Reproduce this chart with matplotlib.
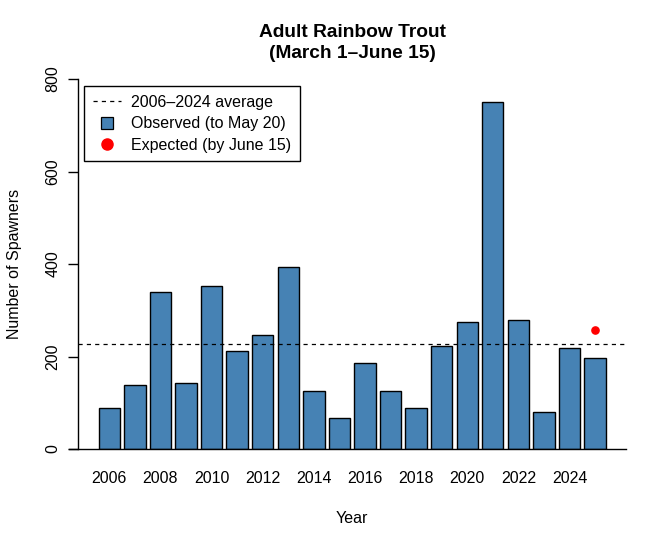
import numpy as np
import matplotlib
matplotlib.use('Agg')
import matplotlib.pyplot as plt
from matplotlib.lines import Line2D

plt.rcParams['font.family'] = ['Liberation Sans', 'DejaVu Sans']
plt.rcParams['lines.scale_dashes'] = False

# data
years = list(range(2006, 2026))
spawners = [88, 138, 339, 142, 352, 211, 246, 393, 125, 68,
            187, 125, 88, 222, 274, 750, 280, 79, 218, 196]
expected_2025 = 257
tick_years = list(range(2006, 2025, 2))

avg = np.mean(spawners[:-1])   # 2006-2024 average

# R-barplot-like positions: width 1, space 0.2
xpos = 0.7 + 1.2 * np.arange(len(years))

fig = plt.figure(figsize=(6.66, 5.47), dpi=100)
ax = fig.add_axes([78.4 / 666, 98 / 547, (626 - 78.4) / 666, 370 / 547])

ax.bar(xpos, spawners, width=1.0, color='#4682B4', edgecolor='black', linewidth=1.0)
ax.axhline(avg, color='black', linestyle=(0, (3, 3)), linewidth=0.9)
ax.plot(xpos[-1], expected_2025, 'o', color='red', markersize=5.2)

# baseline that runs a little past the y axis, as in the original
ax.plot([-1.2, 24.95], [0, 0], color='black', linewidth=1.0, clip_on=False)

ax.set_xlim(-0.75, 24.95)
ax.set_ylim(0, 800)

for s in ['top', 'right', 'bottom']:
    ax.spines[s].set_visible(False)
ax.spines['left'].set_bounds(0, 800)
ax.spines['left'].set_linewidth(1.0)

ax.set_yticks([0, 200, 400, 600, 800])
ax.tick_params(axis='y', length=7, width=1.0, labelsize=11.5, pad=6)
for lab in ax.get_yticklabels():
    lab.set_rotation(90)
    lab.set_va('center')

idx = [years.index(y) for y in tick_years]
ax.set_xticks(xpos[idx])
ax.set_xticklabels([str(y) for y in tick_years])
ax.tick_params(axis='x', length=0, labelsize=11.5, pad=15.5)

ax.set_title('Adult Rainbow Trout\n(March 1\u2013June 15)', fontsize=13.8,
             fontweight='bold', pad=15, linespacing=1.35)
ax.set_xlabel('Year', fontsize=11.5, labelpad=18.5)
ax.set_ylabel('Number of Spawners', fontsize=11.5, labelpad=17)

handles = [
    Line2D([], [], color='black', linestyle=(0, (3, 3)), linewidth=0.9),
    Line2D([], [], marker='s', linestyle='none', markersize=8,
           markerfacecolor='#4682B4', markeredgecolor='black', markeredgewidth=0.9),
    Line2D([], [], marker='o', linestyle='none', markersize=8, color='red'),
]
labels = ['2006\u20132024 average', 'Observed (to May 20)', 'Expected (by June 15)']
leg = ax.legend(handles, labels, loc='upper left', bbox_to_anchor=(5.6 / 547.6, 1 - 7 / 370),
                fontsize=11.5, frameon=True, fancybox=False, edgecolor='black',
                framealpha=1, borderpad=0.55, labelspacing=0.4, handlelength=1.75,
                handletextpad=0.65, borderaxespad=0)
leg.get_frame().set_linewidth(1.0)

fig.savefig('out.png', dpi=100)
